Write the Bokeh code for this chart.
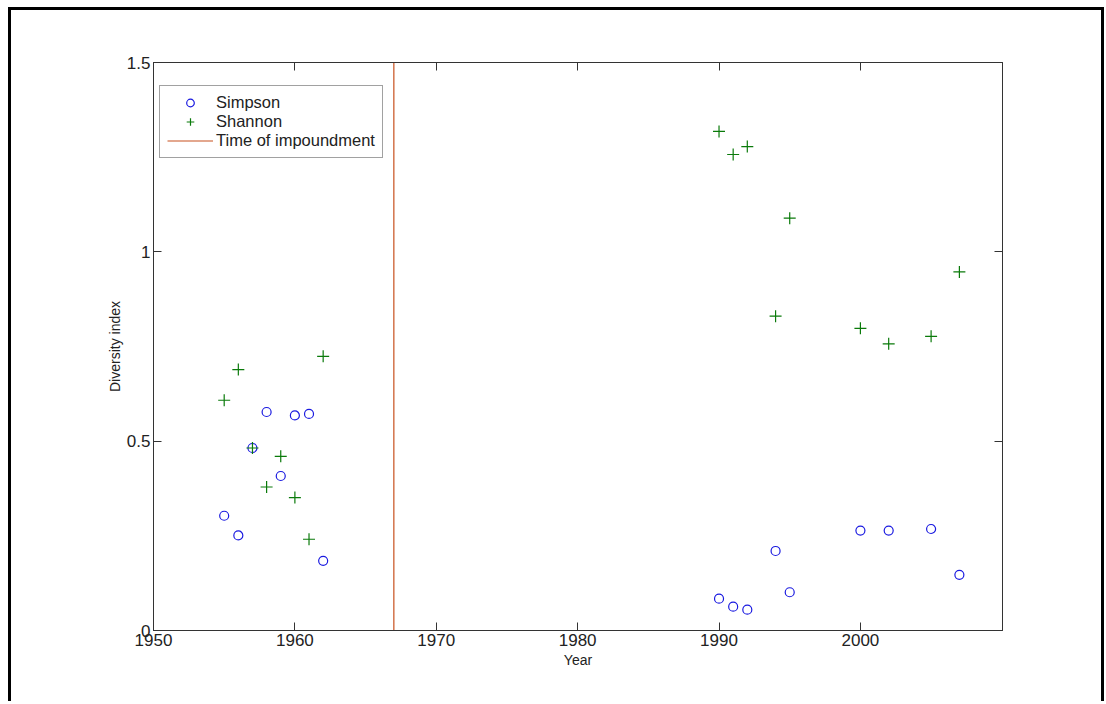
from bokeh.plotting import figure
from bokeh.models import LinearAxis, FixedTicker, Legend
from bokeh.embed import file_html
from bokeh.resources import INLINE

# ---- data ----
years = [1955, 1956, 1957, 1958, 1959, 1960, 1961, 1962,
         1990, 1991, 1992, 1994, 1995, 2000, 2002, 2005, 2007]
simpson = [0.303, 0.251, 0.482, 0.577, 0.408, 0.568, 0.572, 0.184,
           0.084, 0.063, 0.055, 0.210, 0.101, 0.264, 0.264, 0.268, 0.147]
shannon = [0.608, 0.689, 0.482, 0.379, 0.460, 0.351, 0.241, 0.724,
           1.318, 1.257, 1.278, 0.830, 1.089, 0.798, 0.757, 0.777, 0.947]
impound_year = 1967
x_ticks = [1950, 1960, 1970, 1980, 1990, 2000]
y_ticks = [0, 0.5, 1, 1.5]
y_tick_labels = ["0", "0.5", "1", "1.5"]
x_lim = (1950, 2010.05)
y_lim = (0, 1.5)

FONT = "Liberation Sans"
AX = "#333333"

p = figure(width=1096, height=694, x_range=x_lim, y_range=y_lim,
           output_backend="svg", toolbar_location=None,
           min_border_left=142, min_border_top=52, min_border_right=105,
           min_border_bottom=74)
p.styles = {"border-left": "3px solid black", "border-top": "3px solid black",
            "border-right": "3px solid black",
            "margin-left": "8px", "margin-top": "7px"}
p.grid.visible = False
p.outline_line_color = AX
p.outline_line_width = 1

for ax in p.xaxis:
    ax.ticker = FixedTicker(ticks=x_ticks)
for ax in p.yaxis:
    ax.ticker = FixedTicker(ticks=y_ticks)
    ax.major_label_overrides = {t: l for t, l in zip(y_ticks, y_tick_labels)}

p.xaxis.axis_label = "Year"
p.yaxis.axis_label = "Diversity index"

def style_axis(ax, labels=True):
    ax.axis_line_color = AX
    ax.major_tick_line_color = AX
    ax.major_tick_in = 8
    ax.major_tick_out = 0
    ax.minor_tick_line_color = None
    ax.major_label_text_font = FONT
    ax.major_label_text_font_size = "17px"
    ax.major_label_text_color = "#222222"
    ax.axis_label_text_font = FONT
    ax.axis_label_text_font_size = "14px"
    ax.axis_label_text_font_style = "normal"
    ax.axis_label_text_color = "#222222"
    if not labels:
        ax.major_label_text_font_size = "0px"
        ax.major_label_text_alpha = 0

for ax in p.xaxis + p.yaxis:
    style_axis(ax)
p.xaxis.major_label_standoff = 3
p.xaxis.axis_label_standoff = 3
p.yaxis.major_label_standoff = 3
p.yaxis.axis_label_standoff = 1

top_ax = LinearAxis(ticker=FixedTicker(ticks=x_ticks))
right_ax = LinearAxis(ticker=FixedTicker(ticks=y_ticks))
style_axis(top_ax, labels=False)
style_axis(right_ax, labels=False)
p.add_layout(top_ax, "above")
p.add_layout(right_ax, "right")

r1 = p.scatter(years, simpson, marker="circle", size=9, fill_color=None,
               line_color="#1a1ae0", line_width=1.2)
r2 = p.scatter(years, shannon, marker="cross", size=12,
               line_color="#0a7a0a", line_width=1.2)
r3 = p.line([impound_year, impound_year], list(y_lim), line_color="#C8501E",
            line_width=1.2)

legend = Legend(items=[("Simpson", [r1]), ("Shannon", [r2]),
                       ("Time of impoundment", [r3])],
                location=(6, 472))
legend.label_text_font = FONT
legend.label_text_font_size = "16.5px"
legend.label_text_color = "#222222"
legend.border_line_color = "#444444"
legend.border_line_width = 1
legend.padding = 7
legend.spacing = 0
legend.margin = 0
legend.label_height = 19
legend.glyph_height = 19
legend.glyph_width = 46
legend.label_standoff = 3
legend.background_fill_alpha = 1
p.add_layout(legend, "center")

open("out.html", "w").write(file_html(p, INLINE))
